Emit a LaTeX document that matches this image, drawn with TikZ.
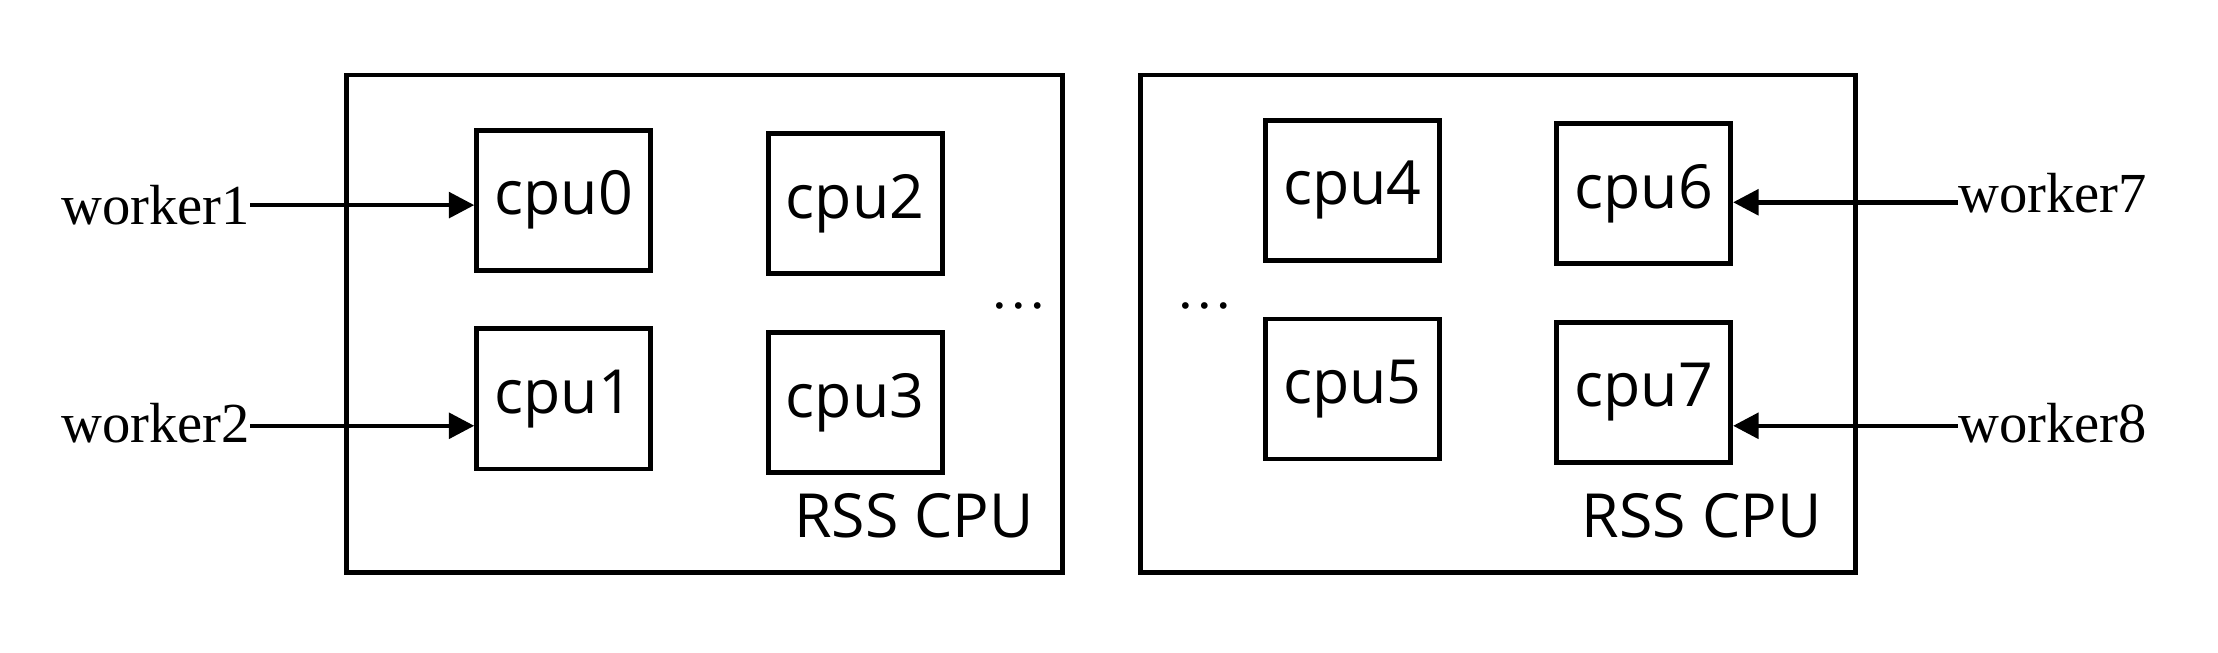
\documentclass[tikz,border=0pt]{standalone}
\usepackage{fontspec}
\setmainfont{Liberation Serif}
\newfontfamily\cpufont{Open Sans}
\usetikzlibrary{arrows.meta}
\begin{document}
\begin{tikzpicture}[x=0.5pt,y=-0.5pt,
  outerbox/.style={draw,line width=1.7pt,minimum width=253pt,minimum height=176pt,inner sep=0pt},
  cpubox/.style={draw,line width=1.7pt,minimum width=61.5pt,minimum height=49.5pt,inner sep=0pt,font=\cpufont\fontsize{21.5}{25}\selectfont},
  wlabel/.style={inner sep=0pt,font=\fontsize{20}{24}\selectfont},
  rsslabel/.style={inner sep=0pt,font=\cpufont\fontsize{21.5}{25}\selectfont},
  arr/.style={line width=1.6pt,-{Triangle[length=9pt,width=9pt]}}]
\useasboundingbox (0,0) rectangle (1568,461);
\node[outerbox] (L) at (498,229) {};
\node[outerbox] (R) at (1059,229) {};
\node[cpubox] (c0) at (398.5,141.5) {cpu0};
\node[cpubox] (c2) at (604.5,144) {cpu2};
\node[cpubox] (c1) at (398.5,282) {cpu1};
\node[cpubox] (c3) at (604.5,284.5) {cpu3};
\node[cpubox] (c4) at (956,134.5) {cpu4};
\node[cpubox] (c6) at (1162,137) {cpu6};
\node[cpubox] (c5) at (956,275) {cpu5};
\node[cpubox] (c7) at (1162,277.5) {cpu7};
\node[rsslabel,anchor=base east] (rl) at (731,380) {RSS CPU};
\node[rsslabel,anchor=base east] (rr) at (1288,380) {RSS CPU};
\node[wlabel,anchor=base] (dl) at (720,218) {\ldots};
\node[wlabel,anchor=base] (dr) at (852,218) {\ldots};
\node[wlabel,anchor=base west] (w1) at (43,159) {worker1};
\node[wlabel,anchor=base west] (w2) at (43,313) {worker2};
\node[wlabel,anchor=base east] (w7) at (1518,150) {worker7};
\node[wlabel,anchor=base east] (w8) at (1518,313) {worker8};
\coordinate (a1) at ([yshift=7pt]w1.base east);
\coordinate (a2) at ([yshift=6pt]w2.base east);
\coordinate (a7) at ([yshift=3.5pt]w7.base west);
\coordinate (a8) at ([yshift=6pt]w8.base west);
\draw[arr] (a1) -- (c0.west |- a1);
\draw[arr] (a2) -- (c1.west |- a2);
\draw[arr] (a7) -- (c6.east |- a7);
\draw[arr] (a8) -- (c7.east |- a8);
\end{tikzpicture}
\end{document}
